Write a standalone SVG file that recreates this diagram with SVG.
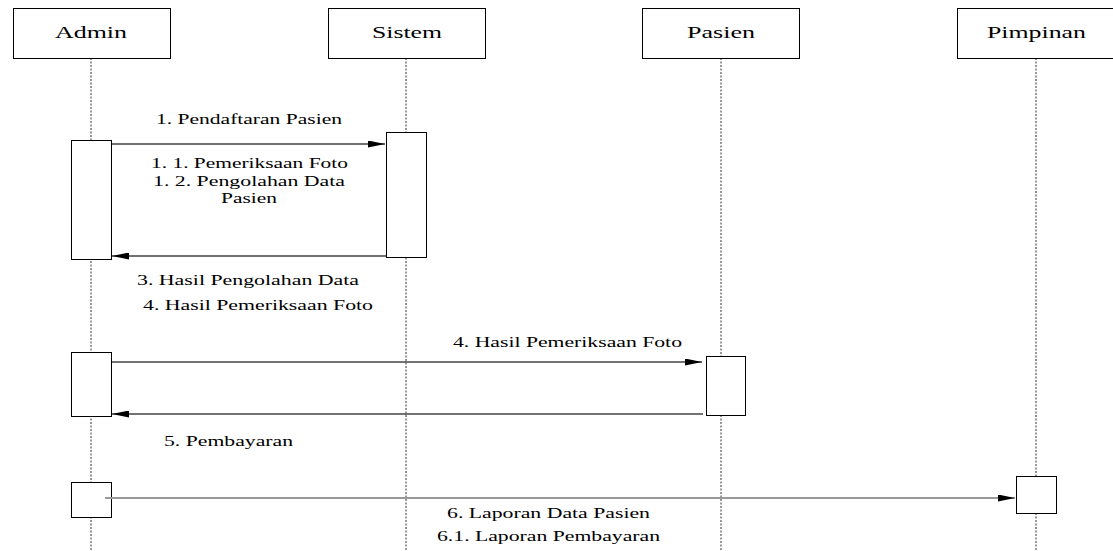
<svg xmlns="http://www.w3.org/2000/svg" width="1113" height="551" viewBox="0 0 1113 551" font-family="'Liberation Serif', 'Times New Roman', serif">
  <style>
    .head { fill: #fff; stroke: #000; stroke-width: 1; }
    .act { fill: #fff; stroke: #000; stroke-width: 1; }
    .life { stroke: #333; stroke-width: 1; stroke-dasharray: 2 1.5; fill: none; }
    .msg { stroke: #444; stroke-width: 1.3; fill: none; marker-end: url(#arrow); }
    .msg.light { stroke: #999; stroke-width: 2; }
    .hname { font-family: 'Liberation Serif', 'Times New Roman', serif; font-size: 17px; fill: #000; }
    .lbl { font-family: 'Liberation Serif', 'Times New Roman', serif; font-size: 14px; fill: #000; }
  </style>
  <defs>
    <marker id="arrow" viewBox="0 0 17 7" refX="17" refY="3.5" markerWidth="17" markerHeight="7" markerUnits="userSpaceOnUse" orient="auto">
      <path d="M0,0 L17,3.5 L0,7 Z" fill="#000"/>
    </marker>
  </defs>
  <rect width="1113" height="551" fill="#fff"/>

  <!-- lifelines -->
  <g id="lifelines">
    <line class="life" x1="91" y1="58" x2="91" y2="551"/>
    <line class="life" x1="406" y1="58" x2="406" y2="551"/>
    <line class="life" x1="721" y1="58" x2="721" y2="551"/>
    <line class="life" x1="1036" y1="58" x2="1036" y2="551"/>
  </g>

  <!-- participants -->
  <g id="admin">
    <rect class="head" x="13.5" y="8.5" width="157" height="50"/>
    <text class="hname" x="55" y="38" textLength="72" lengthAdjust="spacingAndGlyphs">Admin</text>
  </g>
  <g id="sistem">
    <rect class="head" x="328.5" y="8.5" width="157" height="50"/>
    <text class="hname" x="372" y="38" textLength="70" lengthAdjust="spacingAndGlyphs">Sistem</text>
  </g>
  <g id="pasien">
    <rect class="head" x="642.5" y="8.5" width="157" height="50"/>
    <text class="hname" x="687" y="38" textLength="68" lengthAdjust="spacingAndGlyphs">Pasien</text>
  </g>
  <g id="pimpinan">
    <rect class="head" x="957.5" y="8.5" width="157" height="50"/>
    <text class="hname" x="987" y="38" textLength="99" lengthAdjust="spacingAndGlyphs">Pimpinan</text>
  </g>

  <!-- activation bars -->
  <g id="activations">
    <rect class="act" x="71.5" y="140.5" width="40" height="119"/>
    <rect class="act" x="386.5" y="132.5" width="40" height="125"/>
    <rect class="act" x="71.5" y="352.5" width="40" height="64"/>
    <rect class="act" x="706.5" y="356.5" width="39" height="59"/>
    <rect class="act" x="71.5" y="482.5" width="40" height="35"/>
    <rect class="act" x="1016.5" y="476.5" width="40" height="37"/>
  </g>

  <!-- messages -->
  <g id="connectors">
    <line class="msg" x1="112" y1="144" x2="385" y2="144"/>
    <line class="msg" x1="386" y1="256" x2="112" y2="256"/>
    <line class="msg" x1="112" y1="362" x2="702" y2="362"/>
    <line class="msg" x1="703" y1="414" x2="112" y2="414"/>
    <line class="msg light" x1="105" y1="498" x2="1015" y2="498"/>
  </g>

  <!-- message labels -->
  <g id="labels">
    <text class="lbl" x="156" y="124" textLength="186" lengthAdjust="spacingAndGlyphs">1. Pendaftaran Pasien</text>
    <text class="lbl" x="151" y="168" textLength="197" lengthAdjust="spacingAndGlyphs">1. 1. Pemeriksaan Foto</text>
    <text class="lbl" x="153" y="186" textLength="192" lengthAdjust="spacingAndGlyphs">1. 2. Pengolahan Data</text>
    <text class="lbl" x="221" y="203" textLength="56" lengthAdjust="spacingAndGlyphs">Pasien</text>
    <text class="lbl" x="137" y="285" textLength="222" lengthAdjust="spacingAndGlyphs">3. Hasil Pengolahan Data</text>
    <text class="lbl" x="143" y="310" textLength="230" lengthAdjust="spacingAndGlyphs">4. Hasil Pemeriksaan Foto</text>
    <text class="lbl" x="453" y="347" textLength="229" lengthAdjust="spacingAndGlyphs">4. Hasil Pemeriksaan Foto</text>
    <text class="lbl" x="164" y="446" textLength="129" lengthAdjust="spacingAndGlyphs">5. Pembayaran</text>
    <text class="lbl" x="447" y="518" textLength="203" lengthAdjust="spacingAndGlyphs">6. Laporan Data Pasien</text>
    <text class="lbl" x="437" y="541" textLength="223" lengthAdjust="spacingAndGlyphs">6.1. Laporan Pembayaran</text>
  </g>
</svg>
